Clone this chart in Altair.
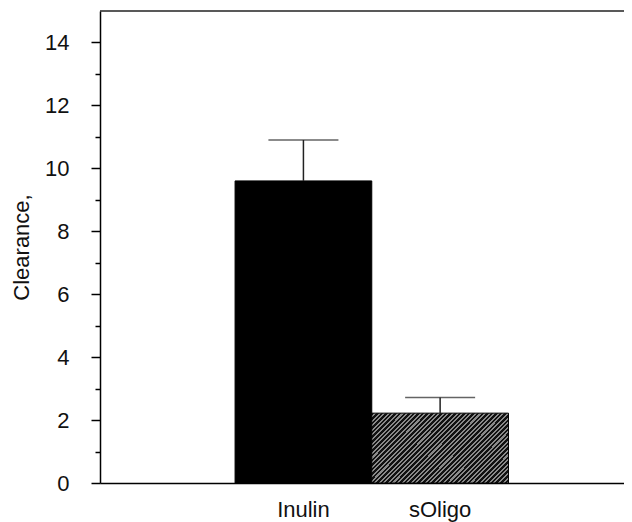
import altair as alt
import pandas as pd

categories = ["Inulin", "sOligo"]
means = [9.6, 2.22]
errors = [1.3, 0.5]
major_ticks = [0, 2, 4, 6, 8, 10, 12, 14]
minor_ticks = [1, 3, 5, 7, 9, 11, 13]
y_top = [15]

df = pd.DataFrame({"cat": categories, "mean": means, "err": errors})
df["top"] = df["mean"] + df["err"]

FONT = "Liberation Sans"
FS = 22

# diagonal hatch emulated by a striped linear gradient
n_stripes = 45
stops = []
for i in range(n_stripes):
    a = i / n_stripes
    b = (i + 0.55) / n_stripes
    c = (i + 1) / n_stripes
    stops += [
        {"offset": a, "color": "#111111"},
        {"offset": b, "color": "#111111"},
        {"offset": b, "color": "#8a8a8a"},
        {"offset": c, "color": "#8a8a8a"},
    ]
hatch = {"gradient": "linear", "x1": 0, "y1": 0, "x2": 1.2, "y2": 0.61, "stops": stops}

x_axis = alt.Axis(
    labelAngle=0, ticks=False, domainColor="black", domainWidth=1.5,
    labelFont=FONT, labelFontSize=FS, labelColor="#111", labelPadding=16,
)
x_scale = alt.Scale(paddingInner=0, paddingOuter=0.9166, align=0.539)
x_enc = alt.X("cat:N", sort=categories, title=None, scale=x_scale, axis=x_axis)

y_scale = alt.Scale(domain=[0, 15], nice=False)
y_axis = alt.Axis(
    values=major_ticks, tickSize=9,
    tickColor="black", tickWidth=1.5, domainColor="black", domainWidth=1.5,
    labelFont=FONT, labelFontSize=FS, labelColor="#111", labelPadding=22,
    titleFont=FONT, titleFontSize=FS, titleFontWeight="normal", titleColor="#111",
    titlePadding=11, grid=False, orient="left",
)
y_enc = alt.Y("mean:Q", scale=y_scale, title="Clearance,", axis=y_axis)

base = alt.Chart(df)

bar_black = base.transform_filter(alt.datum.cat == "Inulin").mark_bar(
    fill="black", stroke="black", strokeWidth=1
).encode(x=x_enc, y=y_enc)

bar_hatch = base.transform_filter(alt.datum.cat == "sOligo").mark_bar(
    fill=hatch, stroke="black", strokeWidth=1
).encode(x=x_enc, y=y_enc)

err_rule = base.mark_rule(color="#222", strokeWidth=1.5).encode(
    x=x_enc, y=y_enc, y2="top:Q"
)
err_cap = base.mark_tick(color="#222", thickness=1.5, size=70, orient="horizontal").encode(
    x=x_enc, y=alt.Y("top:Q", scale=y_scale, title="Clearance,", axis=y_axis)
)

main = alt.layer(bar_black, bar_hatch, err_rule, err_cap)

minor_axis = alt.Axis(
    values=minor_ticks, tickSize=5, labels=False, domain=False, title=None,
    tickColor="black", tickWidth=1.5, grid=False, orient="left",
)
top_line = alt.Chart(pd.DataFrame({"v": y_top})).mark_rule(color="#222", strokeWidth=1.5).encode(
    y=alt.Y("v:Q", scale=y_scale, axis=minor_axis), x=alt.value(0), x2=alt.value(524)
)

chart = alt.layer(main, top_line).resolve_axis(y="independent").properties(
    width=524, height=472,
    autosize=alt.AutoSizeParams(type="none"),
    padding={"left": 92, "top": 3, "right": 0, "bottom": 40},
).configure_view(stroke=None)

chart.save("out.html", embed_options={"renderer": "svg", "actions": False})
